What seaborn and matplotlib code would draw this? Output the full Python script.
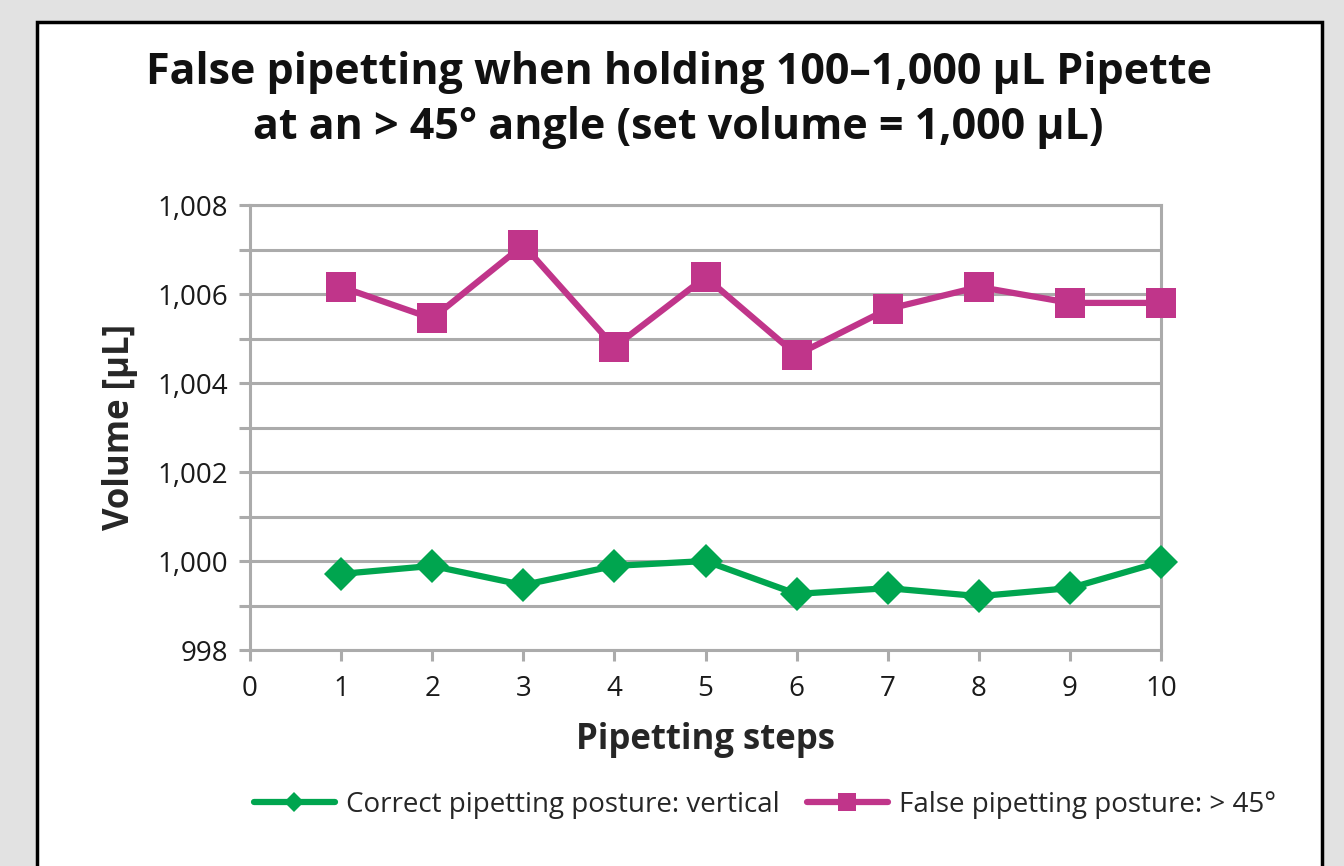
import pandas as pd
import matplotlib.pyplot as plt
import matplotlib.ticker as mticker
from matplotlib.patches import Rectangle
import seaborn as sns

# Data
steps = [1, 2, 3, 4, 5, 6, 7, 8, 9, 10]
vertical_ul = [999.71, 999.89, 999.46, 999.89, 1000.0, 999.26, 999.39, 999.21, 999.39, 999.98]
angled_ul = [1006.16, 1005.45, 1007.10, 1004.81, 1006.38, 1004.63, 1005.66, 1006.16, 1005.80, 1005.80]
series_names = ['Correct pipetting posture: vertical', 'False pipetting posture: > 45°']

df = pd.DataFrame({
    'step': steps * 2,
    'volume': vertical_ul + angled_ul,
    'posture': [series_names[0]] * len(steps) + [series_names[1]] * len(steps),
})

sns.set_style('white')
plt.rcParams['font.family'] = ['Open Sans', 'DejaVu Sans']

green = '#00a54f'
magenta = '#c0358a'
grid_grey = '#ababab'

fig = plt.figure(figsize=(13.44, 8.66), dpi=100)
fig.patch.set_facecolor('#e2e2e2')
# white card with black border, behind everything
card = Rectangle((37 / 1344, -0.05), (1322 - 37) / 1344, (866 - 22) / 866 + 0.05,
                 transform=fig.transFigure, facecolor='white',
                 edgecolor='black', linewidth=2.5, zorder=-10)
fig.patches.append(card)

ax = fig.add_axes([250 / 1344, (866 - 650) / 866, (1161 - 250) / 1344, (650 - 205) / 866])
ax.set_zorder(2)
ax.set_facecolor('white')

sns.lineplot(data=df[df['posture'] == series_names[0]], x='step', y='volume',
             color=green, marker='D', markersize=17, markeredgewidth=0,
             linewidth=4.5, label=series_names[0], ax=ax, clip_on=False, zorder=3)
sns.lineplot(data=df[df['posture'] == series_names[1]], x='step', y='volume',
             color=magenta, marker='s', markersize=21, markeredgewidth=0,
             linewidth=4.5, label=series_names[1], ax=ax, clip_on=False, zorder=3)

ax.set_xlim(0, 10)
ax.set_ylim(998, 1008)
ax.xaxis.set_major_locator(mticker.MultipleLocator(1))
ax.yaxis.set_major_locator(mticker.MultipleLocator(2))
ax.yaxis.set_minor_locator(mticker.MultipleLocator(1))
ax.yaxis.set_major_formatter(mticker.FuncFormatter(lambda v, p: f'{v:,.0f}'))

ax.grid(axis='y', which='both', color=grid_grey, linewidth=2.2)
ax.set_axisbelow(True)
for side in ['left', 'right', 'top', 'bottom']:
    ax.spines[side].set_visible(True)
    ax.spines[side].set_color(grid_grey)
    ax.spines[side].set_linewidth(2.2)

ax.tick_params(axis='both', which='both', direction='out', color=grid_grey,
               width=2.2, length=8, labelsize=20, labelcolor='#1a1a1a')
ax.tick_params(axis='y', which='both', left=True, pad=8)
ax.tick_params(axis='x', which='both', bottom=True, pad=10)

ax.set_xlabel('Pipetting steps', fontsize=25, fontweight='bold', labelpad=14)
ax.set_ylabel('Volume [µL]', fontsize=25, fontweight='bold', labelpad=14)

fig.text(0.505, 1 - 100 / 866,
         'False pipetting when holding 100–1,000 µL Pipette\nat an > 45° angle (set volume = 1,000 µL)',
         ha='center', va='center', fontsize=31, fontweight='bold', linespacing=1.35,
         color='#111111')

ax.legend(loc='center', bbox_to_anchor=(765 / 1344, 1 - 805 / 866),
          bbox_transform=fig.transFigure, ncol=2, frameon=False, fontsize=20,
          handlelength=2.9, columnspacing=1.0, handletextpad=0.4, markerscale=0.6)

fig.savefig('out.png', dpi=100, facecolor=fig.get_facecolor())
